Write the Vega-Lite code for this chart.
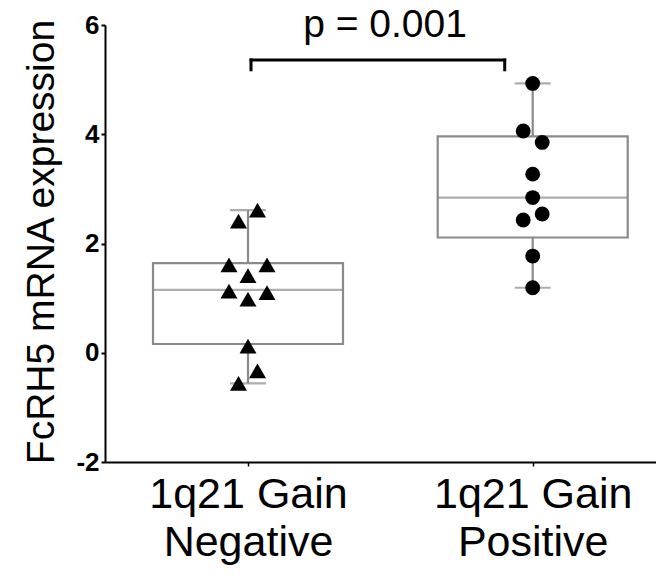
{
  "$schema": "https://vega.github.io/schema/vega-lite/v6.json",
  "autosize": {"type": "none"},
  "padding": {"left": 105, "top": 25, "right": 0, "bottom": 119},
  "width": 551,
  "height": 437,
  "background": "white",
  "config": {
    "view": {"stroke": null},
    "font": "Liberation Sans",
    "axis": {"grid": false},
    "axisX": {
      "labelFontSize": 43,
      "labelLineHeight": 48,
      "labelBaseline": "top",
      "labelPadding": 7,
      "labelAngle": 0,
      "labelLimit": 0,
      "labelColor": "black",
      "tickSize": 4,
      "tickColor": "black",
      "tickWidth": 1.5,
      "domainColor": "black",
      "domainWidth": 2
    },
    "axisY": {
      "titleFontSize": 39,
      "titleFontWeight": "normal",
      "titleColor": "black",
      "labelFontSize": 26,
      "labelFontWeight": "bold",
      "labelColor": "black",
      "labelPadding": 2,
      "tickSize": 4,
      "tickColor": "black",
      "tickWidth": 2,
      "domainColor": "black",
      "domainWidth": 2
    }
  },
  "datasets": {
    "points": [
      {"group": "Negative", "value": 2.61, "slot": 1},
      {"group": "Negative", "value": 2.41, "slot": -1},
      {"group": "Negative", "value": 1.61, "slot": -2},
      {"group": "Negative", "value": 1.61, "slot": 2},
      {"group": "Negative", "value": 1.41, "slot": 0},
      {"group": "Negative", "value": 1.13, "slot": -2},
      {"group": "Negative", "value": 1.10, "slot": 2},
      {"group": "Negative", "value": 0.98, "slot": 0},
      {"group": "Negative", "value": 0.12, "slot": 0},
      {"group": "Negative", "value": -0.33, "slot": 1},
      {"group": "Negative", "value": -0.56, "slot": -1},
      {"group": "Positive", "value": 4.93, "slot": 0},
      {"group": "Positive", "value": 4.06, "slot": -1},
      {"group": "Positive", "value": 3.85, "slot": 1},
      {"group": "Positive", "value": 3.27, "slot": 0},
      {"group": "Positive", "value": 2.84, "slot": 0},
      {"group": "Positive", "value": 2.54, "slot": 1},
      {"group": "Positive", "value": 2.43, "slot": -1},
      {"group": "Positive", "value": 1.77, "slot": 0},
      {"group": "Positive", "value": 1.19, "slot": 0}
    ],
    "stats": [
      {"group": "Negative", "min": -0.56, "q1": 0.16, "median": 1.15, "q3": 1.64, "max": 2.61},
      {"group": "Positive", "min": 1.19, "q1": 2.11, "median": 2.84, "q3": 3.96, "max": 4.93}
    ],
    "bracket": [
      {"from": "Negative", "to": "Positive", "top": 5.36, "bottom": 5.18}
    ],
    "annot": [
      {"group": "Negative", "y": 5.78, "label": "p = 0.001"}
    ]
  },
  "layer": [
    {
      "data": {"name": "stats"},
      "mark": {"type": "rule", "color": "#8a8a8a", "strokeWidth": 2.2},
      "encoding": {
        "x": {
          "field": "group",
          "type": "nominal",
          "title": null,
          "scale": {"type": "point", "domain": ["Negative", "Positive"], "padding": 0.4677, "align": 0.537},
          "axis": {
            "labelExpr": "datum.value == 'Negative' ? ['1q21 Gain', 'Negative'] : ['1q21 Gain', 'Positive']",
            "labelLimit": 0
          }
        },
        "y": {
          "field": "min",
          "type": "quantitative",
          "title": "FcRH5 mRNA expression",
          "scale": {"domain": [-2, 6], "nice": false, "zero": false},
          "axis": {
            "titleAngle": 270,
            "titleX": -52,
            "titleY": 216.5,
            "titleAlign": "center",
            "titleBaseline": "alphabetic",
            "values": [-2, 0, 2, 4, 6],
            "labelExpr": "datum.value < 0 ? '-' + abs(datum.value) : '' + datum.value"
          }
        },
        "y2": {"field": "max"}
      }
    },
    {
      "data": {"name": "stats"},
      "mark": {"type": "bar", "width": 190, "fill": "white", "stroke": "#8a8a8a", "strokeWidth": 2.2},
      "encoding": {
        "x": {"field": "group", "type": "nominal", "title": null},
        "y": {"field": "q1", "type": "quantitative", "title": "FcRH5 mRNA expression"},
        "y2": {"field": "q3"}
      }
    },
    {
      "data": {"name": "stats"},
      "mark": {"type": "tick", "size": 190, "thickness": 2.2, "color": "#8a8a8a"},
      "encoding": {
        "x": {"field": "group", "type": "nominal", "title": null},
        "y": {"field": "median", "type": "quantitative", "title": "FcRH5 mRNA expression"}
      }
    },
    {
      "data": {"name": "stats"},
      "mark": {"type": "tick", "size": 36, "thickness": 2.2, "color": "#8a8a8a"},
      "encoding": {
        "x": {"field": "group", "type": "nominal", "title": null},
        "y": {"field": "max", "type": "quantitative", "title": "FcRH5 mRNA expression"}
      }
    },
    {
      "data": {"name": "stats"},
      "mark": {"type": "tick", "size": 36, "thickness": 2.2, "color": "#8a8a8a"},
      "encoding": {
        "x": {"field": "group", "type": "nominal", "title": null},
        "y": {"field": "min", "type": "quantitative", "title": "FcRH5 mRNA expression"}
      }
    },
    {
      "data": {"name": "points"},
      "mark": {"type": "point", "filled": true, "opacity": 1, "color": "black"},
      "encoding": {
        "x": {"field": "group", "type": "nominal", "title": null},
        "xOffset": {"field": "slot", "type": "quantitative", "scale": {"domain": [-2, 2], "range": [-19, 19]}},
        "y": {"field": "value", "type": "quantitative", "title": "FcRH5 mRNA expression"},
        "shape": {"field": "group", "type": "nominal", "scale": {"domain": ["Negative", "Positive"], "range": ["triangle-up", "circle"]}, "legend": null},
        "size": {"field": "group", "type": "nominal", "scale": {"domain": ["Negative", "Positive"], "range": [290, 220]}, "legend": null}
      }
    },
    {
      "data": {"name": "bracket"},
      "mark": {"type": "rule", "color": "black", "strokeWidth": 3, "strokeCap": "square", "xOffset": 3, "x2Offset": -28},
      "encoding": {
        "x": {"field": "from", "type": "nominal", "title": null},
        "x2": {"field": "to"},
        "y": {"field": "top", "type": "quantitative", "title": "FcRH5 mRNA expression"}
      }
    },
    {
      "data": {"name": "bracket"},
      "mark": {"type": "rule", "color": "black", "strokeWidth": 3, "strokeCap": "square", "xOffset": 3},
      "encoding": {
        "x": {"field": "from", "type": "nominal", "title": null},
        "y": {"field": "bottom", "type": "quantitative", "title": "FcRH5 mRNA expression"},
        "y2": {"field": "top"}
      }
    },
    {
      "data": {"name": "bracket"},
      "mark": {"type": "rule", "color": "black", "strokeWidth": 3, "strokeCap": "square", "xOffset": -28},
      "encoding": {
        "x": {"field": "to", "type": "nominal", "title": null},
        "y": {"field": "bottom", "type": "quantitative", "title": "FcRH5 mRNA expression"},
        "y2": {"field": "top"}
      }
    },
    {
      "data": {"name": "annot"},
      "mark": {"type": "text", "fontSize": 39, "font": "Liberation Sans", "color": "black", "align": "center", "baseline": "alphabetic", "dx": 137},
      "encoding": {
        "x": {"field": "group", "type": "nominal", "title": null},
        "y": {"field": "y", "type": "quantitative", "title": "FcRH5 mRNA expression"},
        "text": {"field": "label"}
      }
    }
  ]
}
